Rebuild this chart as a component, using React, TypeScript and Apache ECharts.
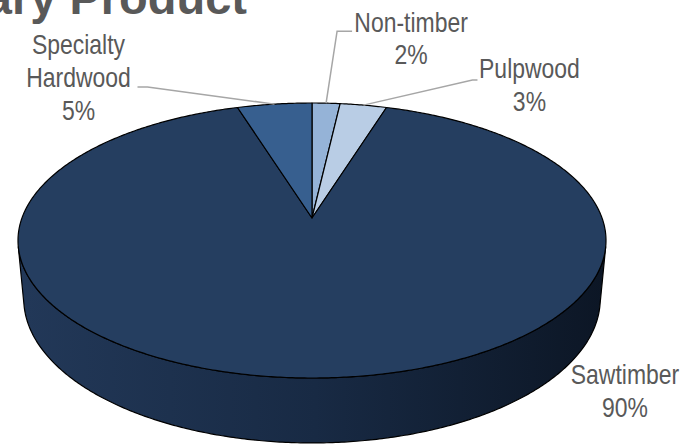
import React, { useEffect, useRef } from 'react';
import * as echarts from 'echarts';

// ---- data ----
const categories = ['Non-timber', 'Pulpwood', 'Sawtimber', 'Specialty Hardwood'];
const labelNames = ['Non-timber', 'Pulpwood', 'Sawtimber', 'Specialty\nHardwood'];
const values = [1.8, 3.0, 90.4, 4.8];
const titleText = 'Primary Product';

// ---- styles / layout ----
const sliceColors = ['#95B3D7', '#B9CDE5', '#253E60', '#375F8F'];
const labelOffsets: number[][] = [[85, -65], [166, -20], [313, 13], [-196, -27]];
const leaderPoints: (number[][] | null)[] = [
  [[11, -72], [26, -72]],
  [[109, -25], [114, -25]],
  null,
  [[-127, -17], [-137, -17]],
];

// perspective camera for the 3D pie
const CX = 312, CY = 218, F = 1572, D = 5.42;
const SA = 0.4614, CA = Math.sqrt(1 - SA * SA), H = 0.228;

function proj(X: number, Y: number, Z: number): number[] {
  const depth = D + Y * CA - Z * SA;
  const up = Y * SA + Z * CA;
  return [CX + (F * X) / depth, CY - (F * up) / depth];
}
function rim(phi: number, z: number): number[] {
  return proj(Math.sin(phi), Math.cos(phi), z);
}

const total = values.reduce((a, b) => a + b, 0);
const starts: number[] = [];
{
  let acc = 0;
  for (const v of values) {
    starts.push(acc);
    acc += v;
  }
}

const FONT = '"Liberation Sans", Arial, sans-serif';
const NARROW = 0.82;

export default function App() {
  const ref = useRef<HTMLDivElement>(null);
  useEffect(() => {
    document.body.style.margin = '0';
    const chart = echarts.init(ref.current!, null, { renderer: 'svg' });
    const sil1 = Math.acos(-1 / (D * CA));
    const sil2 = 2 * Math.PI - sil1;

    const renderItem = (params: any, api: any) => {
      const i = params.dataIndex;
      const v = api.value(0);
      const a0 = (starts[i] / total) * 2 * Math.PI;
      const a1 = a0 + (v / total) * 2 * Math.PI;
      const children: any[] = [];

      // top face
      const steps = Math.max(2, Math.ceil((a1 - a0) / (Math.PI / 360)));
      const topPts: number[][] = [proj(0, 0, 0)];
      for (let k = 0; k <= steps; k++) topPts.push(rim(a0 + ((a1 - a0) * k) / steps, 0));
      children.push({
        type: 'polygon',
        z2: 10,
        shape: { points: topPts },
        style: { fill: sliceColors[i], stroke: '#000', lineWidth: 1.2, lineJoin: 'round' },
      });

      // visible side wall
      const lo = Math.max(a0, sil1);
      const hi = Math.min(a1, sil2);
      if (hi > lo) {
        const n = Math.max(2, Math.ceil((hi - lo) / (Math.PI / 360)));
        const pts: number[][] = [];
        for (let k = 0; k <= n; k++) pts.push(rim(lo + ((hi - lo) * k) / n, 0));
        for (let k = n; k >= 0; k--) pts.push(rim(lo + ((hi - lo) * k) / n, -H));
        children.push({
          type: 'polygon',
          z2: 5,
          shape: { points: pts },
          style: {
            fill: {
              type: 'linear',
              x: 25, y: 0, x2: 605, y2: 0, global: true,
              colorStops: [
                { offset: 0, color: '#223858' },
                { offset: 0.5, color: '#182a44' },
                { offset: 1, color: '#0c1625' },
              ],
            },
            stroke: '#000',
            lineWidth: 1.2,
            lineJoin: 'round',
          },
        });
      }

      // label
      const mid = (a0 + a1) / 2;
      const anchor = rim(mid, 0);
      const pct = Math.round((v / total) * 100) + '%';
      const off = labelOffsets[i];
      children.push({
        type: 'text',
        z2: 20,
        x: anchor[0] + off[0],
        y: anchor[1] + off[1],
        scaleX: NARROW,
        style: {
          text: labelNames[i] + '\n' + pct,
          x: 0,
          y: 0,
          align: 'center',
          verticalAlign: 'middle',
          textAlign: 'center',
          textVerticalAlign: 'middle',
          fill: '#595959',
          fontSize: 28,
          fontFamily: FONT,
          lineHeight: 33,
        },
      });
      const lp = leaderPoints[i];
      if (lp) {
        children.push({
          type: 'polyline',
          z2: 15,
          shape: {
            points: [anchor, [anchor[0] + lp[0][0], anchor[1] + lp[0][1]], [anchor[0] + lp[1][0], anchor[1] + lp[1][1]]],
          },
          style: { stroke: '#A6A6A6', lineWidth: 1.5, fill: null },
        });
      }
      return { type: 'group', children };
    };

    chart.setOption({
      animation: false,
      backgroundColor: '#ffffff',
      graphic: [
        {
          type: 'text',
          x: 247,
          y: -3,
          style: {
            text: titleText,
            align: 'right',
            verticalAlign: 'middle',
            textAlign: 'right',
            textVerticalAlign: 'middle',
            fill: '#595959',
            fontSize: 47,
            fontWeight: 'bold',
            fontFamily: FONT,
          },
        },
      ],
      series: [
        {
          type: 'custom',
          coordinateSystem: 'none',
          renderItem,
          data: values.map((v, i) => ({ name: categories[i], value: [v] })),
        },
      ],
    });
    return () => chart.dispose();
  }, []);
  return <div ref={ref} style={{ width: 698, height: 446 }} />;
}
